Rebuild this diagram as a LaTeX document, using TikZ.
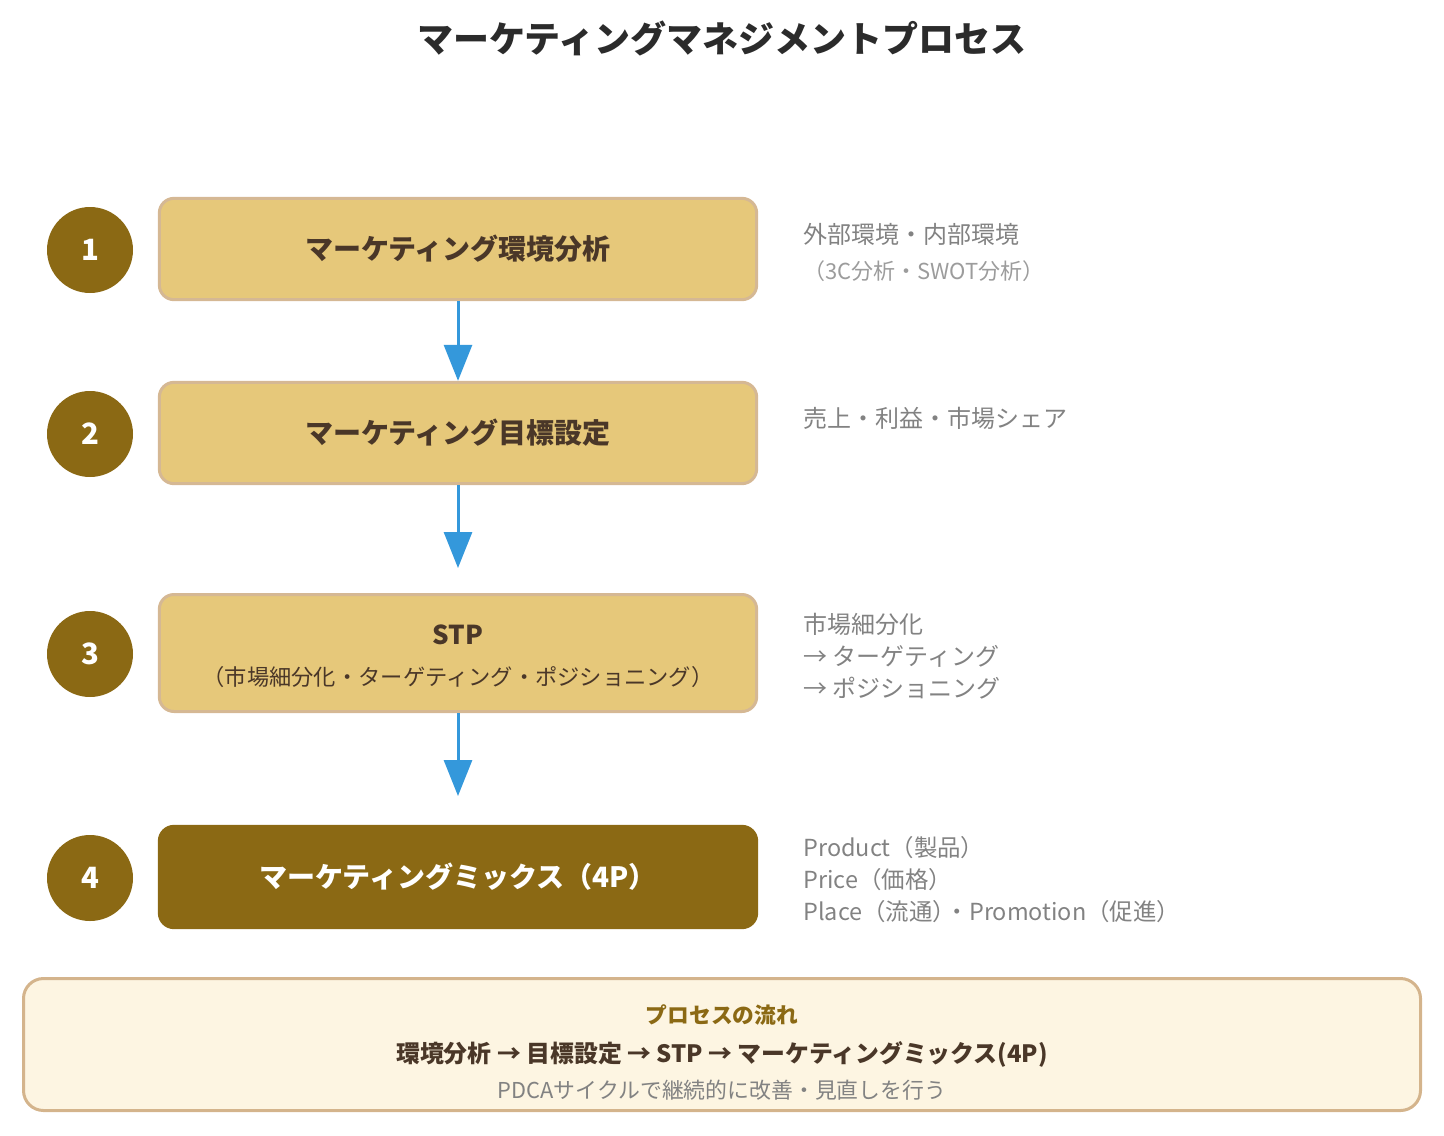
\documentclass[tikz,border=0pt]{standalone}
\usepackage{fontspec}
\setmainfont{Noto Sans CJK JP}
\usepackage{tikz}
\usetikzlibrary{arrows.meta,positioning,calc}
\definecolor{gold}{HTML}{E6C87A}
\definecolor{goldline}{HTML}{D5B894}
\definecolor{olive}{HTML}{8B6914}
\definecolor{ink}{HTML}{4A3728}
\definecolor{titleink}{HTML}{2B2B2B}
\definecolor{note}{HTML}{828282}
\definecolor{notelight}{HTML}{9C9C9C}
\definecolor{flow}{HTML}{3498DB}
\definecolor{cream}{HTML}{FDF5E2}
\definecolor{creamline}{HTML}{D4B48C}
\tikzstyle{stepbox}=[draw=goldline, fill=gold, line width=2.25pt, rounded corners=11pt, minimum width=448pt, minimum height=76pt, text=ink, font=\fontsize{21pt}{25pt}\selectfont\bfseries]
\tikzstyle{numdot}=[circle, fill=olive, minimum size=64.5pt, inner sep=0pt, text=white, font=\fontsize{22pt}{26pt}\selectfont\bfseries]
\tikzstyle{notetext}=[anchor=west, inner sep=0pt, align=left, text=note, font=\fontsize{18pt}{24pt}\selectfont]
\tikzstyle{flowarrow}=[draw=flow, line width=2.25pt, -{Triangle[length=27pt, width=21pt]}]

\begin{document}
\begin{tikzpicture}[x=0.75pt, y=-0.75pt]
				\useasboundingbox (0,0) rectangle (1444,1135);
				\node[text=titleink, font=\fontsize{27pt}{32pt}\selectfont\bfseries] (title) at (722,38) {マーケティングマネジメントプロセス};
				
				\node[numdot] (n1) at (90,250) {1};
				\node[numdot] (n2) at (90,434) {2};
				\node[numdot] (n3) at (90,654) {3};
				\node[numdot] (n4) at (90,878) {4};
				
				\node[stepbox] (env) at (458,249) {マーケティング環境分析};
				\node[stepbox] (goal) at (458,433) {マーケティング目標設定};
				\node[stepbox, minimum height=87.75pt] (stp) at (458,653) {};
				\node[text=ink, font=\fontsize{19.5pt}{24pt}\selectfont\bfseries] (stpA) at (458,635) {STP};
				\node[text=ink, font=\fontsize{16.7pt}{20pt}\selectfont] (stpB) at (458,677) {（市場細分化・ターゲティング・ポジショニング）};
				\node[stepbox, fill=olive, draw=olive, text=white] (mix) at (458,877) {マーケティングミックス（4P）};
				
				\coordinate (tip2) at (458,568);
				\coordinate (tip3) at (458,796);
				\draw[flowarrow](env)--(goal);
				\draw[flowarrow](goal)--(tip2);
				\draw[flowarrow](stp)--(tip3);
				
				\node[notetext] (envA) at (803,234) {外部環境・内部環境};
				\node[notetext, text=notelight, font=\fontsize{16.5pt}{20pt}\selectfont] (envB) at (803,271) {（3C分析・SWOT分析）};
				\node[notetext] (goalA) at (803,418) {売上・利益・市場シェア};
				\node[notetext] (stpC) at (803,656) {市場細分化\\→ ターゲティング\\→ ポジショニング};
				\node[notetext, font=\fontsize{17.6pt}{24pt}\selectfont] (mixA) at (803,880) {Product（製品）\\Price（価格）\\Place（流通）\hspace{-0.45em}・Promotion（促進）};
				
				\node[draw=creamline, fill=cream, line width=2.25pt, rounded corners=15pt, minimum width=1047.75pt, minimum height=99pt] (flowbox) at (722,1044.5) {};
				\node[text=olive, font=\fontsize{16.3pt}{20pt}\selectfont\bfseries] (flowA) at (722,1015) {プロセスの流れ};
				\node[text=ink, font=\fontsize{17.9pt}{22pt}\selectfont\bfseries] (flowB) at (722,1054) {環境分析 → 目標設定 → STP → マーケティングミックス(4P)};
				\node[text=note, font=\fontsize{16.4pt}{20pt}\selectfont] (flowC) at (722,1090) {PDCAサイクルで継続的に改善・見直しを行う};
			\end{tikzpicture}
\end{document}
